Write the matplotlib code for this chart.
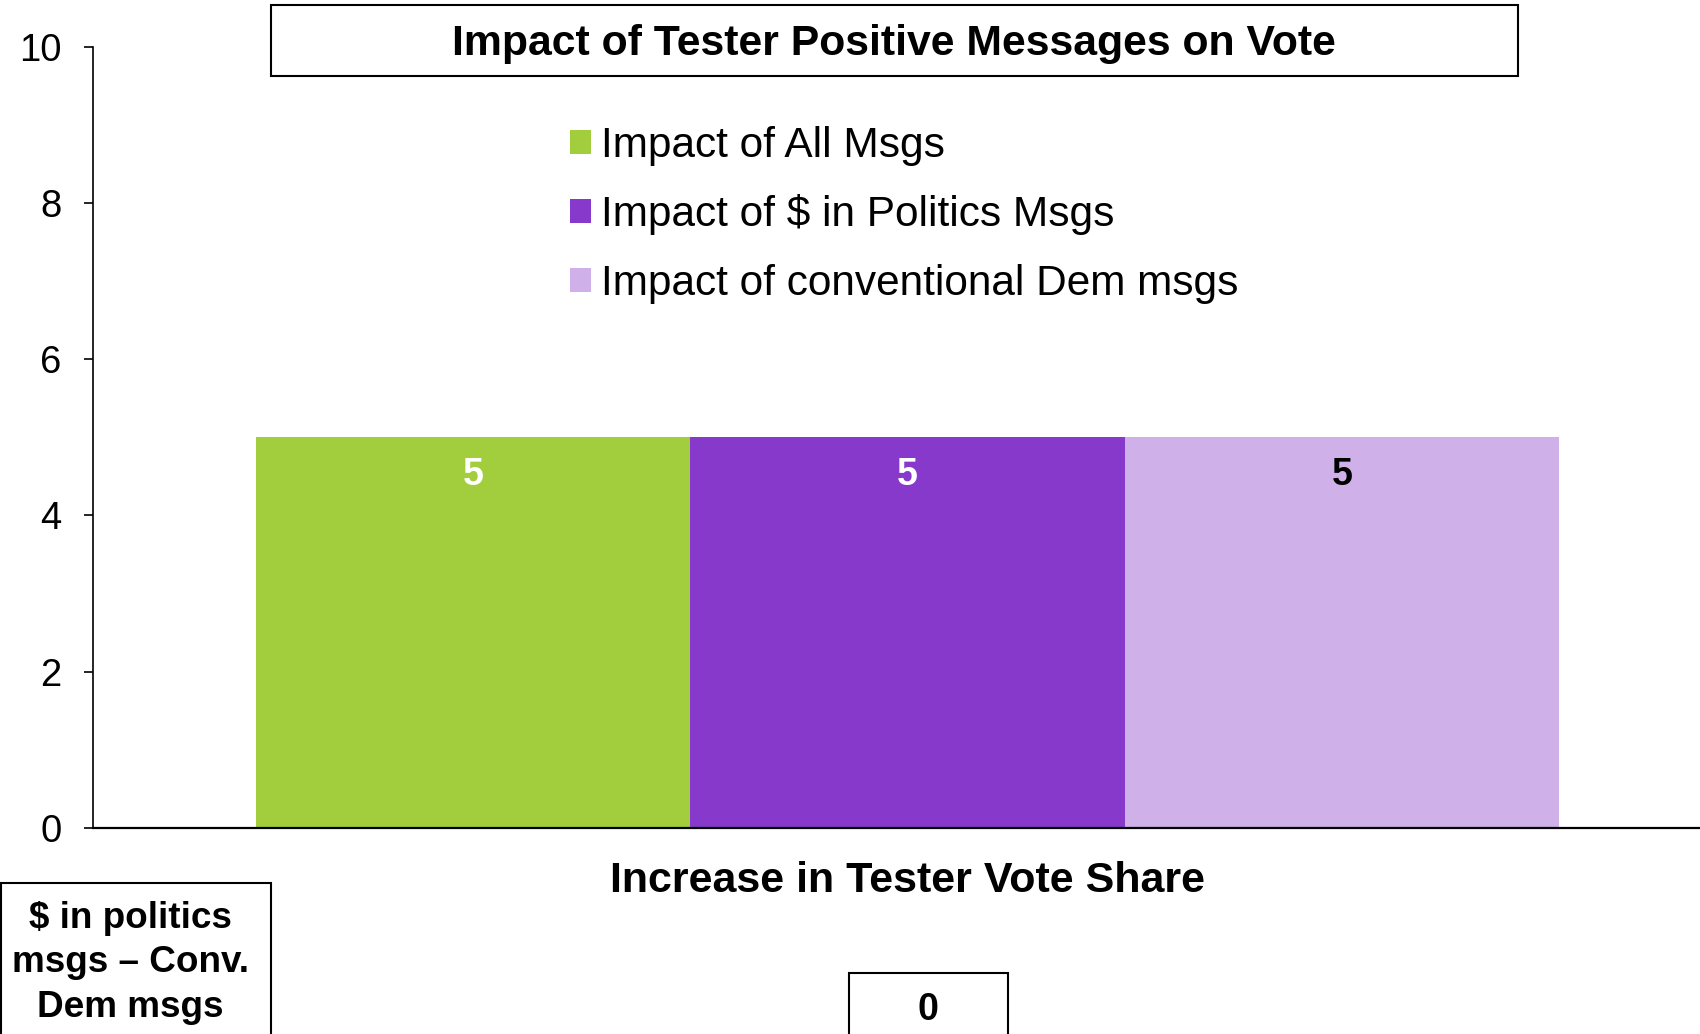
import matplotlib
matplotlib.use("Agg")
import matplotlib.pyplot as plt
from matplotlib.patches import Rectangle

plt.rcParams['font.family'] = ['Liberation Sans', 'DejaVu Sans']

series = ["Impact of All Msgs", "Impact of $ in Politics Msgs", "Impact of conventional Dem msgs"]
values = [5, 5, 5]
colors = ["#A2CD3C", "#8639CA", "#CFB0E8"]
label_colors = ["white", "white", "black"]
yticks = [0, 2, 4, 6, 8, 10]
title = "Impact of Tester Positive Messages on Vote"
xlabel = "Increase in Tester Vote Share"
diff_label = "$ in politics\nmsgs \u2013 Conv.\nDem msgs"

W, H = 1700, 1034
fig = plt.figure(figsize=(W / 100, H / 100), dpi=100)
ax = fig.add_axes([93 / W, (H - 828) / H, (W - 93) / W, (828 - 46.6) / H])

bw = 0.25
offsets = [-bw, 0, bw]
for s, v, c, off, lc in zip(series, values, colors, offsets, label_colors):
    ax.bar(off, v, width=bw, color=c, label=s, linewidth=0)
    ax.annotate(f"{v:g}", xy=(off, v), xytext=(0, -27.4), textcoords="offset points",
                ha="center", va="center", fontsize=27, fontweight="bold", color=lc)

ax.set_xlim(-0.4689, 0.4562)
ax.set_ylim(0, 10)
ax.set_yticks(yticks)
ax.set_yticklabels([str(t) for t in yticks])
ax.tick_params(axis="y", direction="out", length=6.5, width=1.2, pad=16, labelsize=27.5)
ax.tick_params(axis="x", bottom=False, labelbottom=False)
for sp in ["top", "right"]:
    ax.spines[sp].set_visible(False)
ax.spines["left"].set_linewidth(1.2)
ax.spines["bottom"].set_linewidth(1.6)
ax.spines["left"].set_bounds(0, 10)

ax.legend(loc="upper left", bbox_to_anchor=(570 / W, (H - 126) / H),
          bbox_transform=fig.transFigure, frameon=False, fontsize=30.5,
          handlelength=0.5, handleheight=0.5, handletextpad=0.24,
          labelspacing=0.67, borderpad=0, borderaxespad=0)

# title box
fig.patches.append(Rectangle((271 / W, (H - 76) / H), (1518 - 271) / W, 71 / H,
                             transform=fig.transFigure, fill=False, edgecolor="black", linewidth=1.5))
fig.text(894 / W, (H - 44) / H, title, ha="center", va="center", fontsize=30.8, fontweight="bold")

fig.text(907 / W, (H - 881) / H, xlabel, ha="center", va="center", fontsize=31, fontweight="bold")

# difference boxes
fig.patches.append(Rectangle((0.5 / W, -0.05), (271 - 0.5) / W, (H - 883) / H + 0.05,
                             transform=fig.transFigure, fill=False, edgecolor="black", linewidth=1.5))
fig.text(130 / W, (H - 963) / H, diff_label, ha="center", va="center", fontsize=26.6,
         fontweight="bold", linespacing=1.36)

diff = values[1] - values[2]
fig.patches.append(Rectangle((849 / W, -0.05), (1008 - 849) / W, (H - 973) / H + 0.05,
                             transform=fig.transFigure, fill=False, edgecolor="black", linewidth=1.5))
fig.text(928 / W, (H - 1010) / H, f"{diff:g}", ha="center", va="center", fontsize=27, fontweight="bold")

fig.savefig("out.png", dpi=100)
